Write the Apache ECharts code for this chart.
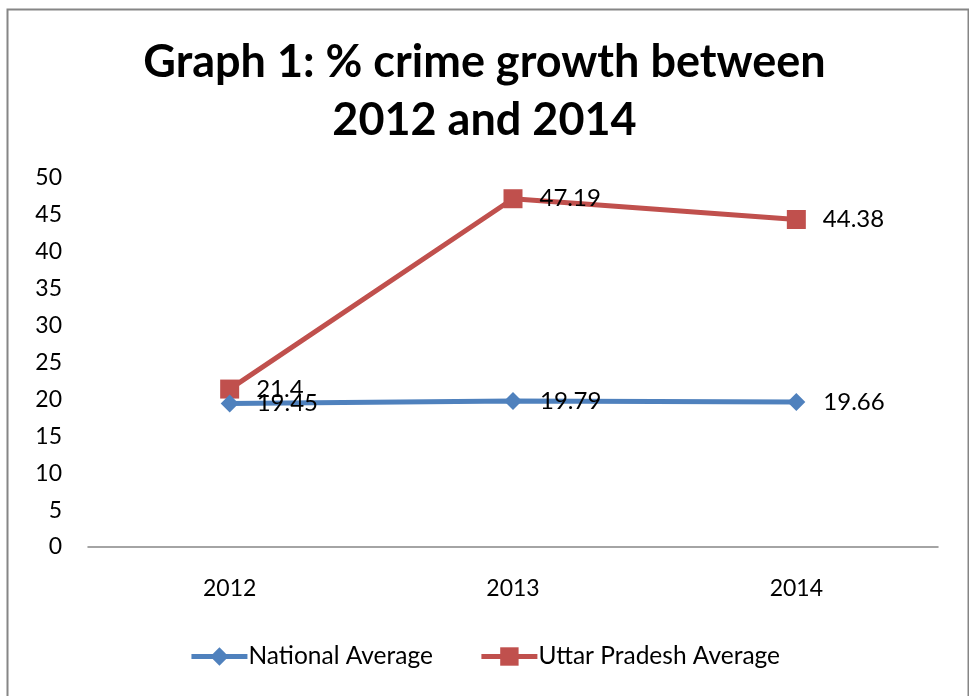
<!DOCTYPE html>
<html><head><meta charset="utf-8">
<script src="https://cdn.jsdelivr.net/npm/echarts@6/dist/echarts.min.js"></script>
<style>html,body{margin:0;padding:0;background:#fff}#c{width:969px;height:696px}</style>
</head><body><div id="c"></div>
<script>
const categories = ['2012', '2013', '2014'];
const nationalAverage = [19.45, 19.79, 19.66];
const upAverage = [21.4, 47.19, 44.38];
const yTicks = {min: 0, max: 50, interval: 5};
const titleText = 'Graph 1: % crime growth between\n2012 and 2014';
const seriesNames = ['National Average', 'Uttar Pradesh Average'];

const FONT = 'Lato';
const chart = echarts.init(document.getElementById('c'), null, {renderer: 'canvas'});
chart.setOption({
  backgroundColor: '#fff',
  animation: false,
  graphic: [{
    type: 'rect', left: 5, top: 7, shape: {width: 961, height: 700},
    style: {fill: 'none', stroke: '#868686', lineWidth: 2}, silent: true
  }],
  title: {
    text: titleText, left: 'center', top: 28,
    textStyle: {fontFamily: FONT, fontWeight: 'bold', fontSize: 45, lineHeight: 58, color: '#000'}
  },
  legend: {
    bottom: 22, left: 'center', itemWidth: 56, itemHeight: 23, itemGap: 46,
    lineStyle: {width: 5},
    textStyle: {fontFamily: FONT, fontSize: 24.5, color: '#000', padding: [0, 0, 0, -4]},
    data: seriesNames
  },
  grid: {left: 88, right: 31, top: 178, bottom: 149},
  xAxis: {
    type: 'category', data: categories, boundaryGap: true,
    axisLine: {lineStyle: {color: '#868686', width: 1.5}},
    axisTick: {show: false},
    axisLabel: {fontFamily: FONT, fontSize: 23, color: '#000', margin: 30}
  },
  yAxis: {
    type: 'value', min: yTicks.min, max: yTicks.max, interval: yTicks.interval,
    axisLine: {show: false}, axisTick: {show: false}, splitLine: {show: false},
    axisLabel: {fontFamily: FONT, fontSize: 23, color: '#000', margin: 26}
  },
  series: [
    {
      name: seriesNames[0], type: 'line', data: nationalAverage,
      symbol: 'diamond', symbolSize: 18, z: 3,
      itemStyle: {color: '#4F81BD'}, lineStyle: {color: '#4F81BD', width: 5},
      label: {show: true, position: 'right', distance: 18, fontFamily: FONT, fontSize: 24, color: '#000'}
    },
    {
      name: seriesNames[1], type: 'line', data: upAverage,
      symbol: 'rect', symbolSize: 19, z: 2,
      itemStyle: {color: '#C0504D'}, lineStyle: {color: '#C0504D', width: 5},
      label: {show: true, position: 'right', distance: 17, fontFamily: FONT, fontSize: 24, color: '#000'}
    }
  ]
});
</script></body></html>
